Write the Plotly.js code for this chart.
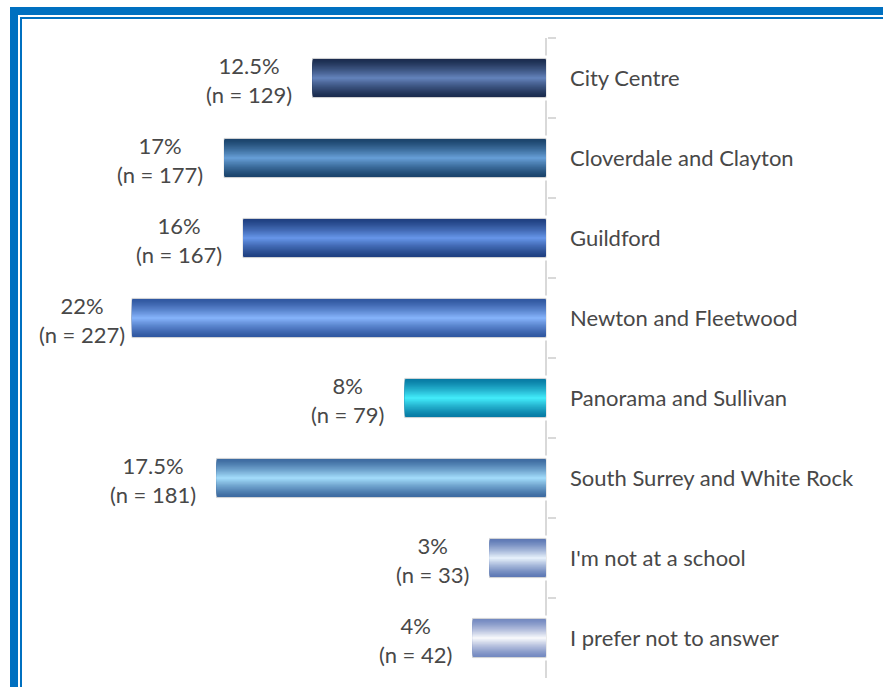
<!DOCTYPE html>
<html>
<head>
<meta charset="utf-8">
<script src="https://cdn.plot.ly/plotly-3.0.1.min.js"></script>
<style>
  html, body { margin: 0; padding: 0; background: #ffffff; }
  #wrap { position: relative; width: 883px; height: 687px; overflow: hidden; }
  #chart { position: absolute; left: 0; top: 0; width: 883px; height: 687px; }
  .frame { position: absolute; background: #0070c0; pointer-events: none; z-index: 5; }
</style>
</head>
<body>
<div id="wrap">
  <div id="chart"></div>
  <div class="frame" style="left:10px; top:7px; width:873px; height:8px;"></div>
  <div class="frame" style="left:10px; top:7px; width:8px; height:680px;"></div>
  <div class="frame" style="left:20px; top:17px; width:863px; height:2px;"></div>
  <div class="frame" style="left:20px; top:17px; width:2px; height:670px;"></div>
</div>
<script>
// ---- data ----
const categories = ['City Centre', 'Cloverdale and Clayton', 'Guildford', 'Newton and Fleetwood',
  'Panorama and Sullivan', 'South Surrey and White Rock', "I'm not at a school", 'I prefer not to answer'];
const barValues = [12.4, 17.1, 16.1, 22.0, 7.5, 17.5, 3.0, 3.9];
const pctLabels = ['12.5%', '17%', '16%', '22%', '8%', '17.5%', '3%', '4%'];
const nCounts = [129, 177, 167, 227, 79, 181, 33, 42];
const edgeColors = ['#1a2b4d', '#1a436b', '#1f3f80', '#2f56a0', '#077aa4', '#3c6aa0', '#5d78b4', '#7388c0'];
const centerColors = ['#6787c0', '#6aa3dc', '#6a9aee', '#8ab8ff', '#45f2ff', '#a8e2ff', '#eef7ff', '#ffffff'];

// ---- helpers ----
function hexToRgb(h) { h = h.replace('#', ''); return [0, 2, 4].map(i => parseInt(h.substr(i, 2), 16)); }
function mix(a, b, t) {
  const A = hexToRgb(a), B = hexToRgb(b);
  const c = A.map((v, i) => Math.round(v + (B[i] - v) * t));
  return 'rgb(' + c.join(',') + ')';
}

const BAR_W = 0.49;
const N = 18;
const traces = [];

// white halo beneath bars (hides the axis line where bars touch it)
traces.push({
  type: 'bar', orientation: 'h', x: barValues, y: categories, width: BAR_W,
  marker: { color: '#ffffff', line: { color: '#ffffff', width: 6 } },
  hoverinfo: 'skip', showlegend: false
});

for (let k = 0; k < N; k++) {
  const u = 1 - k / N;
  const t = Math.pow(1 - u, 1.3);
  traces.push({
    type: 'bar', orientation: 'h', x: barValues, y: categories, width: BAR_W * u,
    marker: {
      color: edgeColors.map((e, i) => mix(e, centerColors[i], t)),
      line: k === 0 ? { color: '#d6d6d6', width: 1 } : { width: 0 }
    },
    hoverinfo: 'skip', showlegend: false
  });
}

const annotations = categories.map((c, i) => ({
  x: barValues[i], y: c, xref: 'x', yref: 'y',
  text: pctLabels[i] + '<br>(n = ' + nCounts[i] + ')',
  showarrow: false, xanchor: 'right', yanchor: 'middle', align: 'center',
  xshift: barValues[i] > 20 ? -5 : -19, yshift: -2,
  font: { family: 'Lato, sans-serif', size: 22, color: '#484848' }
}));

const pxPerUnit = 18.82;
const plotW = 507;
const xMin = -1 / pxPerUnit;
const xMax = xMin + plotW / pxPerUnit;

const layout = {
  width: 883, height: 687,
  margin: { l: 40, r: 336, t: 38, b: 9, pad: 0 },
  paper_bgcolor: 'rgba(0,0,0,0)', plot_bgcolor: '#ffffff',
  barmode: 'overlay',
  showlegend: false,
  xaxis: {
    range: [xMax, xMin], showgrid: false, showticklabels: false, ticks: '',
    zeroline: true, zerolinecolor: '#d9d9d9', zerolinewidth: 2, showline: false,
    layer: 'below traces', fixedrange: true
  },
  yaxis: {
    type: 'category', categoryarray: categories, categoryorder: 'array',
    range: [7.5, -0.5], side: 'right', showgrid: false, zeroline: false,
    showline: false, ticks: 'outside', tickson: 'boundaries', ticklen: 8, tickwidth: 2,
    tickcolor: '#d9d9d9', ticklabelstandoff: 22,
    tickfont: { family: 'Lato, sans-serif', size: 22, color: '#484848' },
    layer: 'below traces', fixedrange: true
  },
  annotations: annotations
};

Plotly.newPlot('chart', traces, layout, { displayModeBar: false, staticPlot: true });
</script>
</body>
</html>
